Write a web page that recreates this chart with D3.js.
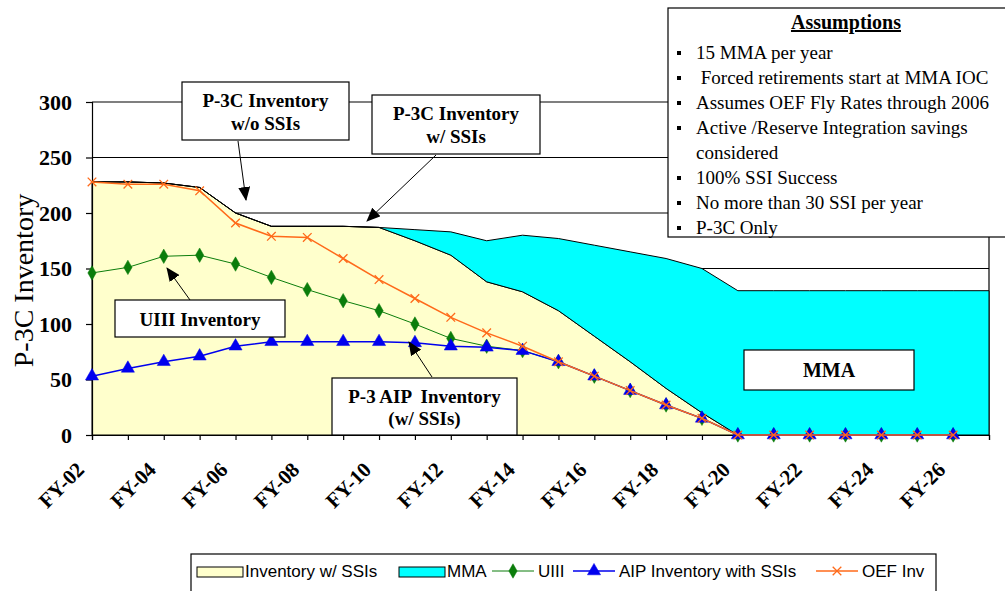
<!DOCTYPE html>
<html lang="en">
<head>
<meta charset="UTF-8">
<title>P-3C Inventory</title>
<script src="https://d3js.org/d3.v7.min.js"></script>
<style>
  body { margin: 0; background: #fff; }
  svg text { font-family: "Liberation Serif", "Times New Roman", serif; fill: #000; }
  .legend text { font-family: "Liberation Sans", Arial, sans-serif; font-size: 17px; }
</style>
</head>
<body>
<svg id="chart" width="1005" height="591"></svg>
<script>
// categories (one per fiscal year)
const categories = ["FY-02","FY-03","FY-04","FY-05","FY-06","FY-07","FY-08","FY-09","FY-10",
  "FY-11","FY-12","FY-13","FY-14","FY-15","FY-16","FY-17","FY-18","FY-19","FY-20",
  "FY-21","FY-22","FY-23","FY-24","FY-25","FY-26","FY-27"];
const yTicks = [0, 50, 100, 150, 200, 250, 300];

// stacked areas
const invWithSSIs = [228,228,227,223,200,188,188,188,187,175,162,138,129,112,89,66,42,20,0,0,0,0,0,0,0,0];
const mma = [0,0,0,0,0,0,0,0,0,10,21,37,51,65,82,99,117,130,130,130,130,130,130,130,130,130];

// line series (FY-02 .. FY-26)
const uiii = [146,151,161,162,154,142,131,121,112,100,87,80,76,66,53,40,27,15,0,0,0,0,0,0,0];
const aip = [53,60,66,71,80,84,84,84,84,83,80,79,76,66,53,40,27,15,0,0,0,0,0,0,0];
const oefInv = [228,226,226,220,191,179,178,159,140,123,106,92,80,66,53,40,27,15,0,0,0,0,0,0,0];

const assumptions = [
  ["15 MMA per year"],
  ["\u00a0Forced retirements start at MMA IOC"],
  ["Assumes OEF Fly Rates through 2006"],
  ["Active /Reserve Integration savings", "considered"],
  ["100% SSI Success"],
  ["No more than 30 SSI per year"],
  ["P-3C Only"]
];

const svg = d3.select("#chart");
const width = 1005, height = 591;
const margin = {top: 102, right: 16, bottom: 156, left: 92};

const x = d3.scalePoint()
  .domain(categories)
  .range([margin.left, width - margin.right]);

const y = d3.scaleLinear()
  .domain([0, 300])
  .range([height - margin.bottom, margin.top]);

// gridlines
svg.append("g")
  .selectAll("line")
  .data(yTicks.filter(d => d > 0))
  .join("line")
    .attr("x1", margin.left)
    .attr("x2", width - margin.right)
    .attr("y1", d => y(d))
    .attr("y2", d => y(d))
    .attr("stroke", "#000")
    .attr("stroke-width", 1.2);

// right border of the plot
svg.append("line")
  .attr("x1", width - margin.right).attr("x2", width - margin.right)
  .attr("y1", y(300)).attr("y2", y(0))
  .attr("stroke", "#000").attr("stroke-width", 1.2);

// stacked areas
const table = categories.map((c, i) => ({cat: c, inv: invWithSSIs[i], mma: mma[i]}));
const stacked = d3.stack().keys(["inv", "mma"])(table);
const areaColors = {inv: "#FFFFCC", mma: "#00FFFF"};

const area = d3.area()
  .x(d => x(d.data.cat))
  .y0(d => y(d[0]))
  .y1(d => y(d[1]));

svg.append("g")
  .selectAll("path")
  .data(stacked)
  .join("path")
    .attr("d", area)
    .attr("fill", d => areaColors[d.key])
    .attr("stroke", "#000")
    .attr("stroke-width", 1);

// axes
const yAxis = svg.append("g")
  .attr("transform", `translate(${margin.left},0)`)
  .call(d3.axisLeft(y).tickValues(yTicks).tickSize(6).tickPadding(14));
yAxis.selectAll("text")
  .attr("font-size", 22)
  .attr("font-weight", "bold")
  .attr("font-family", "Liberation Serif, serif");

const xAxis = svg.append("g")
  .attr("transform", `translate(0,${y(0)})`)
  .call(d3.axisBottom(x).tickSize(5).tickFormat((d, i) => i % 2 === 0 ? d : ""));
xAxis.selectAll("text")
  .attr("x", 0).attr("y", 0).attr("dy", 0)
  .attr("text-anchor", "end")
  .attr("transform", "translate(-7,36) rotate(-45)")
  .attr("font-size", 21)
  .attr("font-weight", "bold")
  .attr("font-family", "Liberation Serif, serif");

svg.selectAll(".domain, .tick line").attr("stroke", "#000").attr("stroke-width", 1.2);

// y title
svg.append("text")
  .attr("transform", `translate(33,${(y(0) + y(300)) / 2 + 12}) rotate(-90)`)
  .attr("text-anchor", "middle")
  .attr("font-size", 28)
  .text("P-3C Inventory");

// line series
const series = [
  {name: "UIII", values: uiii, color: "#0b7d0b", width: 1, symbol: d3.symbolDiamond, size: 60, fillMark: true},
  {name: "AIP Inventory with SSIs", values: aip, color: "#0000ee", width: 1.5, symbol: d3.symbolTriangle, size: 75, fillMark: true},
  {name: "OEF Inv", values: oefInv, color: "#ff6a1a", width: 1.5, symbol: d3.symbolX, size: 50, fillMark: false}
];

const line = d3.line()
  .x((d, i) => x(categories[i]))
  .y(d => y(d));

series.forEach(s => {
  const g = svg.append("g");
  g.append("path")
    .datum(s.values)
    .attr("fill", "none")
    .attr("stroke", s.color)
    .attr("stroke-width", s.width)
    .attr("d", line);
  g.selectAll("path.mark")
    .data(s.values)
    .join("path")
      .attr("class", "mark")
      .attr("transform", (d, i) => `translate(${x(categories[i])},${y(d)})`)
      .attr("d", d3.symbol(s.symbol, s.size))
      .attr("fill", s.fillMark ? s.color : "none")
      .attr("stroke", s.color)
      .attr("stroke-width", s.fillMark ? 0.5 : 1.3);
});

// arrowhead
svg.append("defs").append("marker")
  .attr("id", "arrow")
  .attr("markerUnits", "userSpaceOnUse")
  .attr("markerWidth", 14).attr("markerHeight", 12)
  .attr("refX", 13).attr("refY", 6)
  .attr("orient", "auto")
  .append("path")
    .attr("d", "M0,0 L14,6 L0,12 Z")
    .attr("fill", "#000");

// callouts
const notes = [
  {box: [182, 82, 167, 58], lines: ["P-3C Inventory", "w/o SSIs"], base: [106.5, 129.5], size: 19, from: [238, 141], to: [246, 200]},
  {box: [372, 95, 168, 59], lines: ["P-3C Inventory", "w/ SSIs"], base: [119.5, 143], size: 19, from: [436, 155], to: [367, 221]},
  {box: [115, 300, 170, 37], lines: ["UIII Inventory"], base: [325.5], size: 19, from: [190, 300], to: [167, 268]},
  {box: [332, 378, 185, 57], lines: ["P-3 AIP  Inventory", "(w/ SSIs)"], base: [403, 425], size: 19, from: [432, 377], to: [409, 342]},
  {box: [744, 350, 170, 40], lines: ["MMA"], base: [377], size: 20}
];

notes.forEach(n => {
  if (n.from) {
    svg.append("line")
      .attr("x1", n.from[0]).attr("y1", n.from[1])
      .attr("x2", n.to[0]).attr("y2", n.to[1])
      .attr("stroke", "#000").attr("stroke-width", 1)
      .attr("marker-end", "url(#arrow)");
  }
  svg.append("rect")
    .attr("x", n.box[0]).attr("y", n.box[1])
    .attr("width", n.box[2]).attr("height", n.box[3])
    .attr("fill", "#fff").attr("stroke", "#000").attr("stroke-width", 1.2);
  n.lines.forEach((t, i) => {
    svg.append("text")
      .attr("x", n.box[0] + n.box[2] / 2)
      .attr("y", n.base[i])
      .attr("text-anchor", "middle")
      .attr("font-weight", "bold")
      .attr("font-size", n.size)
      .style("white-space", "pre")
      .text(t);
  });
});

// assumptions box
const ab = svg.append("g");
ab.append("rect")
  .attr("x", 668).attr("y", 8).attr("width", 360).attr("height", 229)
  .attr("fill", "#fff").attr("stroke", "#000").attr("stroke-width", 1.2);
ab.append("text")
  .attr("x", 846).attr("y", 29)
  .attr("text-anchor", "middle")
  .attr("font-weight", "bold")
  .attr("font-size", 20)
  .attr("text-decoration", "underline")
  .text("Assumptions");

let row = 0;
assumptions.forEach(item => {
  item.forEach((t, j) => {
    const by = 59 + row * 25;
    if (j === 0) {
      ab.append("rect")
        .attr("x", 677).attr("y", by - 8).attr("width", 4).attr("height", 4)
        .attr("fill", "#000");
    }
    ab.append("text")
      .attr("x", 696).attr("y", by)
      .attr("font-size", 19)
      .style("white-space", "pre")
      .text(t);
    row++;
  });
});

// legend
const legend = svg.append("g").attr("class", "legend");
legend.append("rect")
  .attr("x", 191).attr("y", 554).attr("width", 745).attr("height", 45)
  .attr("fill", "#fff").attr("stroke", "#000").attr("stroke-width", 1.2);

const ly = 571;
const legendItems = [
  {type: "area", key: "inv", label: "Inventory w/ SSIs", x0: 197},
  {type: "area", key: "mma", label: "MMA", x0: 399},
  {type: "line", s: series[0], label: "UIII", x0: 492},
  {type: "line", s: series[1], label: "AIP Inventory with SSIs", x0: 573},
  {type: "line", s: series[2], label: "OEF Inv", x0: 816}
];

legendItems.forEach(it => {
  if (it.type === "area") {
    legend.append("rect")
      .attr("x", it.x0).attr("y", ly - 4).attr("width", 46).attr("height", 10)
      .attr("fill", areaColors[it.key]).attr("stroke", "#000").attr("stroke-width", 1);
    legend.append("text").attr("x", it.x0 + 48).attr("y", ly + 6).text(it.label);
  } else {
    legend.append("line")
      .attr("x1", it.x0).attr("x2", it.x0 + 42)
      .attr("y1", ly).attr("y2", ly)
      .attr("stroke", it.s.color).attr("stroke-width", it.s.width);
    legend.append("path")
      .attr("transform", `translate(${it.x0 + 21},${ly})`)
      .attr("d", d3.symbol(it.s.symbol, it.s.size))
      .attr("fill", it.s.fillMark ? it.s.color : "none")
      .attr("stroke", it.s.color)
      .attr("stroke-width", it.s.fillMark ? 0.5 : 1.3);
    legend.append("text").attr("x", it.x0 + 46).attr("y", ly + 6).text(it.label);
  }
});
</script>
</body>
</html>
